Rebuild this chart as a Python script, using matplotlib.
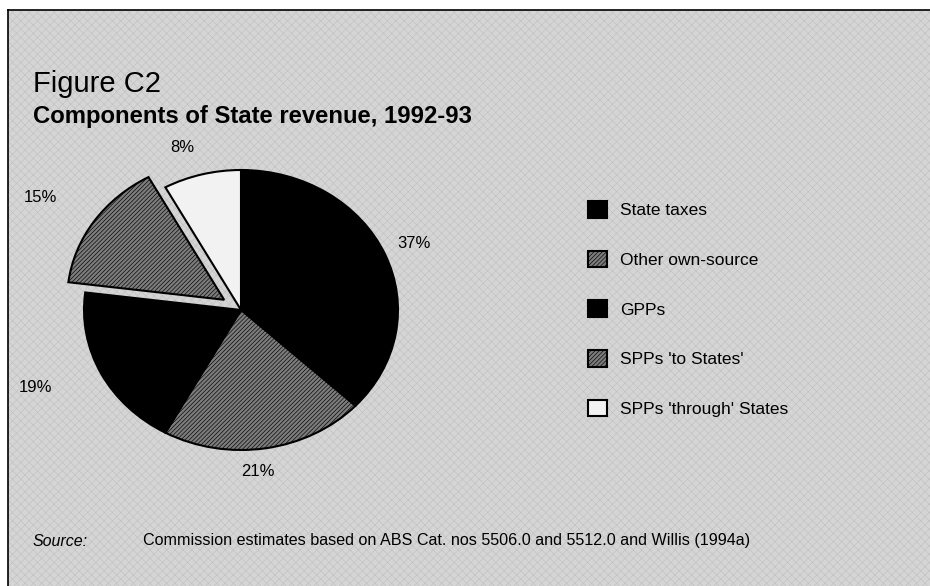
import matplotlib
matplotlib.use("Agg")
import matplotlib.pyplot as plt
from matplotlib.patches import Rectangle
from matplotlib.lines import Line2D

plt.rcParams['font.family'] = ['Liberation Sans', 'DejaVu Sans']
plt.rcParams['hatch.linewidth'] = 0.45

# Components of State revenue, 1992-93 (per cent)
components = ["State taxes", "Other own-source", "GPPs",
              "SPPs 'to States'", "SPPs 'through' States"]
shares = [37, 21, 19, 15, 8]
fills = ["black", "#7c7c7c", "black", "#7c7c7c", "#f2f2f2"]
hatches = [None, "////////", None, "////////", None]
explode = [0, 0, 0, 0.13, 0]

W, H = 930, 586
fig = plt.figure(figsize=(W / 100, H / 100), dpi=100)
fig.patch.set_facecolor("white")

def fx(px):
    return px / W

def fy(py):
    return 1 - py / H

# shaded panel with a border on the top and left
panel = Rectangle((fx(8), 0), 1 - fx(8), fy(10), transform=fig.transFigure,
                  facecolor="#d5d5d5", edgecolor="#c2c2c2", hatch="xxxx",
                  linewidth=0, zorder=-5)
fig.patches.append(panel)
fig.add_artist(Line2D([fx(8), 1], [fy(10), fy(10)], transform=fig.transFigure,
                      color="black", lw=1.2))
fig.add_artist(Line2D([fx(8), fx(8)], [0, fy(10)], transform=fig.transFigure,
                      color="black", lw=1.2))

fig.text(fx(33), fy(84), "Figure C2", fontsize=21, va="center", ha="left")
fig.text(fx(33), fy(116), "Components of State revenue, 1992-93", fontsize=17.2,
         fontweight="bold", va="center", ha="left")

# pie axes: centre (241, 310) px, radii 157 x 140 px
cx, cy, rx, ry = 241, 310, 157, 140
ax = fig.add_axes([fx(cx - 1.5 * rx), fy(cy + 1.5 * ry), 3 * rx / W, 3 * ry / H])
wedges, _ = ax.pie(shares, colors=fills, startangle=90, counterclock=False,
                   explode=explode,
                   wedgeprops=dict(edgecolor="black", linewidth=1.5))
for w, h in zip(wedges, hatches):
    if h:
        w.set_hatch(h)
ax.set_aspect("auto")
ax.set_xlim(-1.5, 1.5)
ax.set_ylim(-1.5, 1.5)
ax.axis("off")

# percentage labels around the pie
label_pos = [(414, 243), (258, 472), (35, 387), (40, 197), (182, 148)]
for v, (px, py) in zip(shares, label_pos):
    fig.text(fx(px), fy(py), f"{v}%", fontsize=12, ha="center", va="center")

fig.legend(wedges, components, loc="upper left",
           bbox_to_anchor=(fx(588), fy(201)), frameon=False, fontsize=12.5,
           handlelength=1.1, handleheight=1.1, handletextpad=0.75,
           labelspacing=1.87, borderaxespad=0, borderpad=0)

fig.text(fx(33), fy(541), "Source:", fontsize=11.5, style="italic",
         ha="left", va="center")
fig.text(fx(143), fy(541),
         "Commission estimates based on ABS Cat. nos 5506.0 and 5512.0 and Willis (1994a)",
         fontsize=11.6, ha="left", va="center")

fig.savefig("out.png", dpi=100)
